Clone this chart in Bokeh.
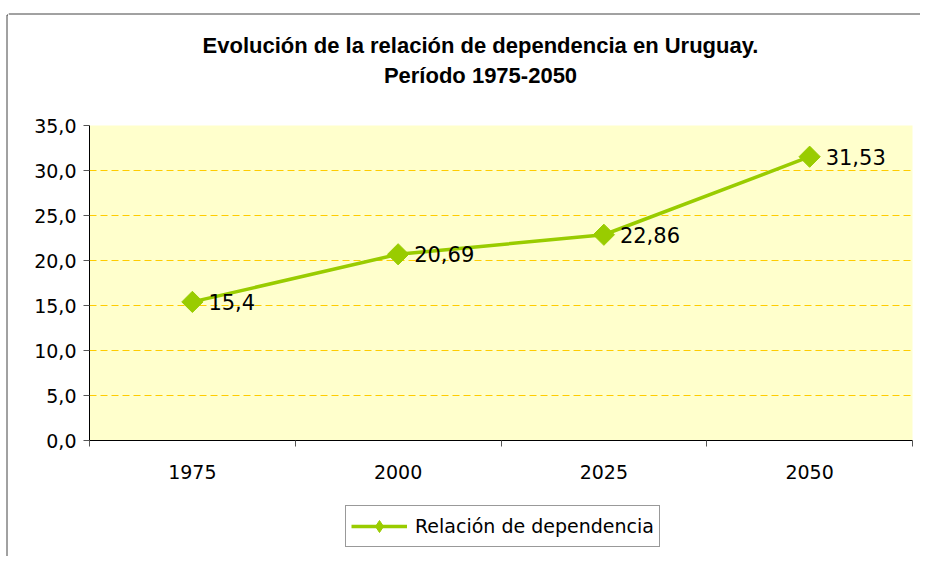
from bokeh.plotting import figure
from bokeh.models import (FixedTicker, Legend, LegendItem, ColumnDataSource, Range1d)
from bokeh.layouts import row, column
from bokeh.embed import file_html
from bokeh.resources import INLINE
from bokeh.core.properties import value
import math

# ---- data ----
years = ["1975", "2000", "2025", "2050"]
dependencia = [15.4, 20.69, 22.86, 31.53]
value_labels = ["15,4", "20,69", "22,86", "31,53"]
y_ticks = [0, 5, 10, 15, 20, 25, 30, 35]
y_tick_labels = ["0,0", "5,0", "10,0", "15,0", "20,0", "25,0", "30,0", "35,0"]
title_lines = ["Evolución de la relación de dependencia en Uruguay.", "Período 1975-2050"]
series_name = "Relación de dependencia"

TITLE_FONT = "Liberation Sans"
FONT = "DejaVu Sans"
GREEN = "#99CC00"
FRAME = "#444444"

W_MAIN = 912


def blank(width, height):
    f = figure(width=width, height=height, output_backend="svg", toolbar_location=None,
               x_range=Range1d(0, width), y_range=Range1d(0, height),
               x_axis_location=None, y_axis_location=None, min_border=0)
    f.grid.visible = False
    f.outline_line_color = None
    f.background_fill_color = "white"
    f.border_fill_color = "white"
    f.frame_align = False
    return f


# ---- left strip with the chart frame line ----
left = blank(8, 556)
left.segment(x0=[6.5, 6.5], y0=[0, 541.5], x1=[6.5, 8], y1=[541.5, 541.5],
             line_color=FRAME, line_width=1)

# ---- title strip ----
top = blank(W_MAIN, 115)
top.segment(x0=[0], y0=[101.5], x1=[W_MAIN], y1=[101.5], line_color=FRAME, line_width=1)
top.text(x=[472, 472], y=[70, 40], text=title_lines, text_align="center",
         text_baseline="middle", text_font=value(TITLE_FONT), text_font_style="bold",
         text_font_size="22px", text_color="black")

# ---- main chart ----
xpos = [i + 0.5 for i in range(len(years))]
src = ColumnDataSource(dict(x=xpos, y=dependencia, lbl=value_labels))

p = figure(width=W_MAIN, height=375, output_backend="svg", toolbar_location=None,
           x_range=Range1d(0, len(years)), y_range=Range1d(0, 35),
           min_border_left=81, min_border_right=8, min_border_top=10,
           min_border_bottom=50)
p.frame_align = False
p.background_fill_color = "#FFFFCC"
p.border_fill_color = "white"
p.outline_line_color = None

p.xgrid.grid_line_color = None
p.ygrid.grid_line_color = "#FFCC00"
p.ygrid.grid_line_dash = "7 4"
p.ygrid.grid_line_width = 1
p.ygrid.ticker = FixedTicker(ticks=y_ticks[1:])

p.yaxis.ticker = FixedTicker(ticks=y_ticks)
p.yaxis.major_label_overrides = {t: l for t, l in zip(y_ticks, y_tick_labels)}
p.yaxis.major_label_text_font = FONT
p.yaxis.major_label_text_font_size = "19px"
p.yaxis.major_label_text_color = "black"
p.yaxis.axis_line_color = "black"
p.yaxis.major_tick_line_color = "#555555"
p.yaxis.major_tick_out = 6
p.yaxis.major_tick_in = 0
p.yaxis.minor_tick_line_color = None
p.yaxis.major_label_standoff = 7

p.xaxis.ticker = FixedTicker(ticks=xpos, minor_ticks=list(range(len(years) + 1)))
p.xaxis.major_label_overrides = {x: y for x, y in zip(xpos, years)}
p.xaxis.major_label_text_font = FONT
p.xaxis.major_label_text_font_size = "19px"
p.xaxis.major_label_text_color = "black"
p.xaxis.axis_line_color = "black"
p.xaxis.major_tick_out = 0
p.xaxis.major_tick_in = 0
p.xaxis.minor_tick_line_color = "#555555"
p.xaxis.minor_tick_out = 6
p.xaxis.minor_tick_in = 0
p.xaxis.major_label_standoff = 18

p.line("x", "y", source=src, line_color=GREEN, line_width=3.5)
p.scatter("x", "y", source=src, marker="square", angle=math.pi / 4, size=15,
          fill_color=GREEN, line_color=GREEN)
p.text("x", "y", text="lbl", source=src, x_offset=16, text_baseline="middle",
       text_align="left", text_font=value(FONT), text_font_size="21px", text_color="black")

# ---- legend strip (legend sample renderers hold one off-canvas point) ----
bot = blank(W_MAIN, 66)
sample = ColumnDataSource(dict(x=[-100], y=[-100]))
l_ln = bot.line("x", "y", source=sample, line_color=GREEN, line_width=3.5)
l_mk = bot.scatter("x", "y", source=sample, marker="diamond", size=14,
                   fill_color=GREEN, line_color=GREEN)
legend = Legend(items=[LegendItem(label=series_name, renderers=[l_ln, l_mk])],
                location=(337, 9), orientation="horizontal",
                label_text_font=FONT, label_text_font_size="19px",
                label_text_color="black", border_line_color="#333333",
                border_line_width=1, background_fill_color="white",
                background_fill_alpha=1, glyph_width=56, glyph_height=30,
                padding=5, margin=0, label_standoff=8)
bot.add_layout(legend, "center")

layout = row(left, column(top, p, bot))
open("out.html", "w").write(file_html(layout, INLINE))
